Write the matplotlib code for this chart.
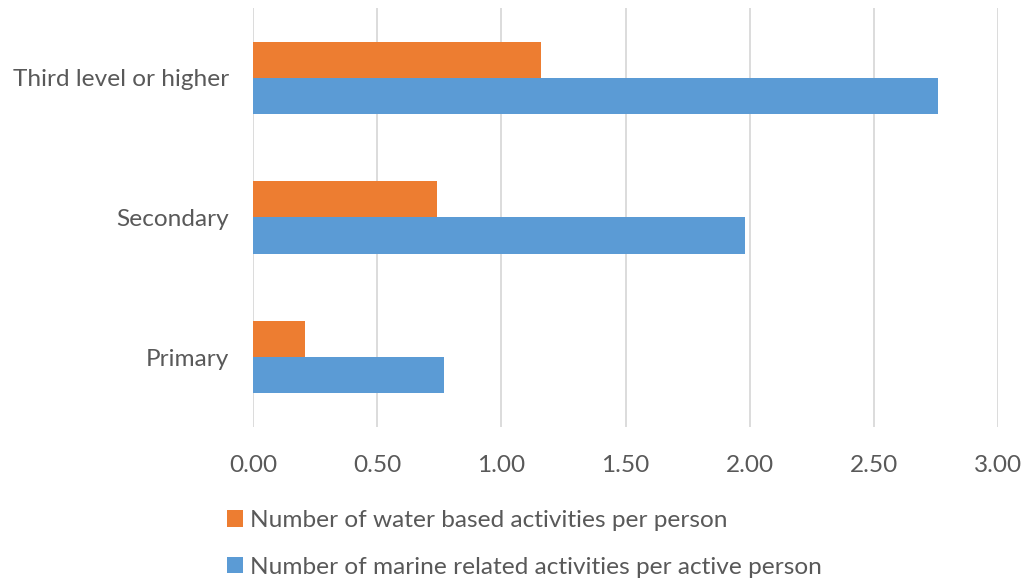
import numpy as np
import matplotlib.pyplot as plt

categories = ["Primary", "Secondary", "Third level or higher"]
water_based = [0.21, 0.74, 1.16]
marine_related = [0.77, 1.98, 2.76]
series_names = ["Number of water based activities per person",
                "Number of marine related activities per active person"]
ticks = [0.0, 0.5, 1.0, 1.5, 2.0, 2.5, 3.0]

plt.rcParams['font.family'] = ['Lato', 'DejaVu Sans']
text_col = "#595959"

fig = plt.figure(figsize=(10.26, 5.82), dpi=100)
ax = fig.add_axes([253 / 1026, 1 - 427 / 582, 745 / 1026, 419 / 582])

y = np.arange(len(categories))
h = 0.26
b1 = ax.barh(y + h / 2, water_based, height=h, color="#ED7D31", label=series_names[0])
b2 = ax.barh(y - h / 2, marine_related, height=h, color="#5B9BD5", label=series_names[1])

ax.set_xlim(0, 3)
ax.set_ylim(-0.5, 2.5)
ax.set_xticks(ticks)
ax.set_xticklabels([f"{t:.2f}" for t in ticks])
ax.set_yticks(y)
ax.set_yticklabels(categories)
ax.tick_params(axis="both", length=0, labelsize=17.6, colors=text_col)
ax.tick_params(axis="y", pad=17)
ax.tick_params(axis="x", pad=20)
ax.grid(axis="x", color="#D9D9D9", linewidth=1.3)
ax.set_axisbelow(True)
for s in ax.spines.values():
    s.set_visible(False)

fig.legend(handles=[b1, b2], loc="upper left", bbox_to_anchor=(227 / 1026, 1 - 510 / 582),
           frameon=False, fontsize=17.6, labelcolor=text_col, handlelength=0.65, handleheight=0.65,
           handletextpad=0.3, labelspacing=1.05, borderpad=0, borderaxespad=0)

fig.savefig("out.png", dpi=100)
